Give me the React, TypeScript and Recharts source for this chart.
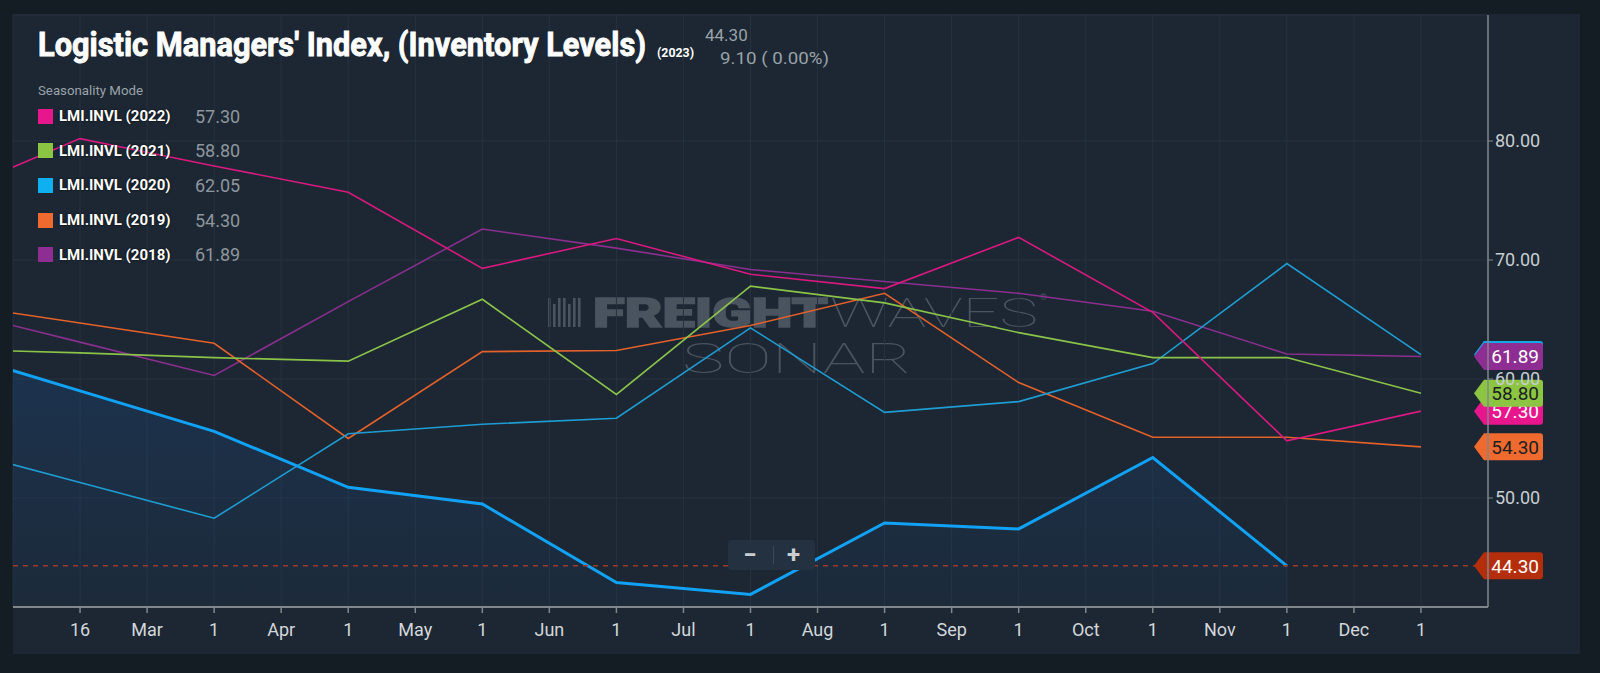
import React from 'react';
import { ComposedChart, Line, Area, XAxis, YAxis, CartesianGrid, ReferenceLine } from 'recharts';

// month index: 0 = Jan ... 11 = Dec
const months = [0, 1, 2, 3, 4, 5, 6, 7, 8, 9, 10, 11];
const lmi2023 = [62.4, 59.0, 55.6, 50.9, 49.5, 42.9, 41.9, 47.9, 47.4, 53.4, 44.3, null];
const lmi2022 = [75.4, 80.2, 77.9, 75.7, 69.3, 71.8, 68.8, 67.6, 71.9, 65.6, 54.8, 57.3];
const lmi2021 = [62.5, 62.2, 61.8, 61.5, 66.7, 58.7, 67.8, 66.4, 63.9, 61.8, 61.8, 58.8];
const lmi2020 = [54.3, 51.3, 48.3, 55.4, 56.2, 56.7, 64.3, 57.2, 58.1, 61.3, 69.7, 62.05];
const lmi2019 = [66.4, 64.7, 63.0, 55.0, 62.3, 62.4, 64.5, 67.2, 59.7, 55.1, 55.1, 54.3];
const lmi2018 = [65.9, 63.1, 60.3, 66.5, 72.6, 71.0, 69.2, 68.2, 67.2, 65.7, 62.1, 61.89];

const xTicks = [1, 1.5, 2, 2.5, 3, 3.5, 4, 4.5, 5, 5.5, 6, 6.5, 7, 7.5, 8, 8.5, 9, 9.5, 10, 10.5, 11];
const xTickLabels = ['16', 'Mar', '1', 'Apr', '1', 'May', '1', 'Jun', '1', 'Jul', '1', 'Aug', '1', 'Sep', '1', 'Oct', '1', 'Nov', '1', 'Dec', '1'];
const yTicks = [50, 60, 70, 80];

const legendNames = ['LMI.INVL (2022)', 'LMI.INVL (2021)', 'LMI.INVL (2020)', 'LMI.INVL (2019)', 'LMI.INVL (2018)'];
const legendValues = ['57.30', '58.80', '62.05', '54.30', '61.89'];
const legendColors = ['#e8168c', '#8cc541', '#0fb0ef', '#ef6a2e', '#8e2d92'];

const data = months.map((m, i) => ({
  m,
  y2023: lmi2023[i],
  y2022: lmi2022[i],
  y2021: lmi2021[i],
  y2020: lmi2020[i],
  y2019: lmi2019[i],
  y2018: lmi2018[i],
}));

const FONT = 'Roboto, "Noto Sans", sans-serif';

function Badge(props: any) {
  const { viewBox, text, fill, color } = props;
  if (!viewBox) return null;
  const cy = viewBox.y;
  const end = viewBox.x + viewBox.width;
  const tip = end - 14;
  const right = end + 55;
  const h = 13.5;
  const d = `M${tip},${cy} L${tip + 10},${cy - h} L${right - 3},${cy - h} Q${right},${cy - h} ${right},${cy - h + 3} L${right},${cy + h - 3} Q${right},${cy + h} ${right - 3},${cy + h} L${tip + 10},${cy + h} Z`;
  return (
    <g>
      <path d={d} fill={fill} />
      <text x={right - 4} y={cy} dy="0.36em" textAnchor="end" fontFamily={FONT} fontSize={19} fill={color}>
        {text}
      </text>
    </g>
  );
}

export default function App() {
  return (
    <div style={{ position: 'absolute', left: 0, top: 0, width: 1600, height: 673, background: '#141c24', overflow: 'hidden' }}>
      <div style={{ position: 'absolute', left: 13, top: 14, width: 1567, height: 640, background: '#1c2733' }} />
      {/* watermark */}
      <svg style={{ position: 'absolute', left: 0, top: 0 }} width={1600} height={673}>
        <g fill="#4a545f">
          {[0, 1, 2, 3, 4, 5, 6].map((k) => (
            <rect key={k} x={548 + k * 5} y={298 + (k % 3 === 1 ? 6 : 0)} width={2.6} height={29 - (k % 3 === 1 ? 6 : 0)} />
          ))}
          <text x={593} y={327} fontFamily={FONT} fontWeight={900} fontSize={41} stroke="#4a545f" strokeWidth={1.5} textLength={235} lengthAdjust="spacingAndGlyphs">FREIGHT</text>
          <text x={830} y={327} fontFamily={FONT} fontWeight={100} fontSize={41} textLength={208} lengthAdjust="spacingAndGlyphs">WAVES</text>
          <text x={1040} y={300} fontFamily={FONT} fontSize={9}>®</text>
          <text x={682} y={373} fontFamily={FONT} fontWeight={100} fontSize={42} textLength={230} lengthAdjust="spacingAndGlyphs">SONAR</text>
        </g>
      </svg>
      <div style={{ position: 'absolute', left: 0, top: 0 }}>
        <ComposedChart width={1600} height={673} data={data} margin={{ top: 15, right: 22, bottom: 26, left: 13 }}>
          <defs>
            <linearGradient id="fill2023" x1="0" y1="0" x2="0" y2="1">
              <stop offset="0%" stopColor="#1b4f8f" stopOpacity={0.5} />
              <stop offset="100%" stopColor="#1b4f8f" stopOpacity={0.12} />
            </linearGradient>
          </defs>
          <CartesianGrid stroke="#26323e" strokeWidth={1} />
          <XAxis
            dataKey="m"
            type="number"
            domain={[0.5, 11.5]}
            ticks={xTicks}
            interval={0}
            allowDataOverflow
            height={40}
            tickFormatter={(v: number) => xTickLabels[Math.round((v - 1) * 2)] ?? ''}
            axisLine={{ stroke: '#80878d', strokeWidth: 2 }}
            tickLine={{ stroke: '#80878d', strokeWidth: 1.5 }}
            tickSize={6}
            tickMargin={10}
            tick={{ fill: '#d3d7db', fontSize: 18, fontFamily: FONT }}
          />
          <YAxis
            orientation="right"
            type="number"
            domain={[40.84, 90.59]}
            ticks={yTicks}
            allowDataOverflow
            width={90}
            tickFormatter={(v: number) => v.toFixed(2)}
            axisLine={{ stroke: '#80878d', strokeWidth: 1.5 }}
            tickLine={{ stroke: '#80878d', strokeWidth: 1 }}
            tickSize={5}
            tickMargin={2}
            tick={{ fill: '#c8cdd1', fontSize: 18, fontFamily: FONT }}
          />
          <Line dataKey="y2018" type="linear" stroke="#8a2f8e" strokeWidth={1.6} dot={false} isAnimationActive={false} />
          <Line dataKey="y2019" type="linear" stroke="#e4612b" strokeWidth={1.6} dot={false} isAnimationActive={false} />
          <Line dataKey="y2020" type="linear" stroke="#1f9dd3" strokeWidth={1.6} dot={false} isAnimationActive={false} />
          <Line dataKey="y2021" type="linear" stroke="#8bc34a" strokeWidth={1.6} dot={false} isAnimationActive={false} />
          <Line dataKey="y2022" type="linear" stroke="#d9197f" strokeWidth={1.6} dot={false} isAnimationActive={false} />
          <Area dataKey="y2023" type="linear" stroke="#12a2f5" strokeWidth={3} fill="url(#fill2023)" dot={false} activeDot={false} isAnimationActive={false} />
          <ReferenceLine y={44.3} stroke="#9c3a29" strokeWidth={1.5} strokeDasharray="5 5" />
          <ReferenceLine y={lmi2020[11]} stroke="none" label={<Badge text="62.05" fill="#14a7e8" color="#ffffff" />} />
          <ReferenceLine y={lmi2018[11]} stroke="none" label={<Badge text="61.89" fill="#8e2d92" color="#ffffff" />} />
          <ReferenceLine y={lmi2022[11]} stroke="none" label={<Badge text="57.30" fill="#e8168c" color="#ffffff" />} />
          <ReferenceLine y={lmi2021[11]} stroke="none" label={<Badge text="58.80" fill="#8cc541" color="#1b1f22" />} />
          <ReferenceLine y={lmi2019[11]} stroke="none" label={<Badge text="54.30" fill="#ef6a2e" color="#1b1f22" />} />
          <ReferenceLine y={44.3} stroke="none" label={<Badge text="44.30" fill="#b52e0c" color="#ffffff" />} />
        </ComposedChart>
      </div>
      {/* title and header */}
      <svg style={{ position: 'absolute', left: 0, top: 0, pointerEvents: 'none' }} width={1600} height={120}>
        <text x={38} y={56} fontFamily={FONT} fontWeight={700} fontSize={34} fill="#ffffff" stroke="#ffffff" strokeWidth={0.9} textLength={608} lengthAdjust="spacingAndGlyphs">
          Logistic Managers' Index, (Inventory Levels)
        </text>
        <text x={657} y={57} fontFamily={FONT} fontWeight={700} fontSize={13} fill="#ffffff" textLength={37} lengthAdjust="spacingAndGlyphs">
          (2023)
        </text>
        <text x={705} y={41} fontFamily={FONT} fontSize={17} fill="#9aa2a9">44.30</text>
        <text x={720} y={64} fontFamily={FONT} fontSize={17} fill="#9aa2a9" textLength={109} lengthAdjust="spacingAndGlyphs">9.10 ( 0.00%)</text>
        <text x={38} y={95} fontFamily={FONT} fontSize={13} fill="#9aa2a9" textLength={105} lengthAdjust="spacingAndGlyphs">Seasonality Mode</text>
      </svg>
      {/* legend */}
      {legendNames.map((name, i) => {
        const cy = 116 + i * 34.7;
        return (
          <div key={name} style={{ position: 'absolute', left: 38, top: cy - 10, height: 20, display: 'flex', alignItems: 'center', fontFamily: FONT }}>
            <div style={{ width: 15, height: 15, background: legendColors[i] }} />
            <div style={{ position: 'absolute', left: 21, color: '#ffffff', fontWeight: 700, fontSize: 15, whiteSpace: 'nowrap', textShadow: '0 0 2px #000' }}>{name}</div>
            <div style={{ position: 'absolute', left: 157, color: '#8e969d', fontSize: 18, whiteSpace: 'nowrap' }}>{legendValues[i]}</div>
          </div>
        );
      })}
      {/* zoom control */}
      <div style={{ position: 'absolute', left: 728, top: 540, width: 87, height: 30, background: '#233140', borderRadius: 4, fontFamily: FONT }}>
        <div style={{ position: 'absolute', left: 0, width: 44, top: 0, height: 30, lineHeight: '30px', textAlign: 'center', color: '#c9ced3', fontWeight: 700, fontSize: 24 }}>−</div>
        <div style={{ position: 'absolute', left: 45, top: 6, width: 1, height: 18, background: '#3b4957' }} />
        <div style={{ position: 'absolute', left: 44, width: 43, top: 0, height: 30, lineHeight: '30px', textAlign: 'center', color: '#c9ced3', fontWeight: 700, fontSize: 24 }}>+</div>
      </div>
    </div>
  );
}
